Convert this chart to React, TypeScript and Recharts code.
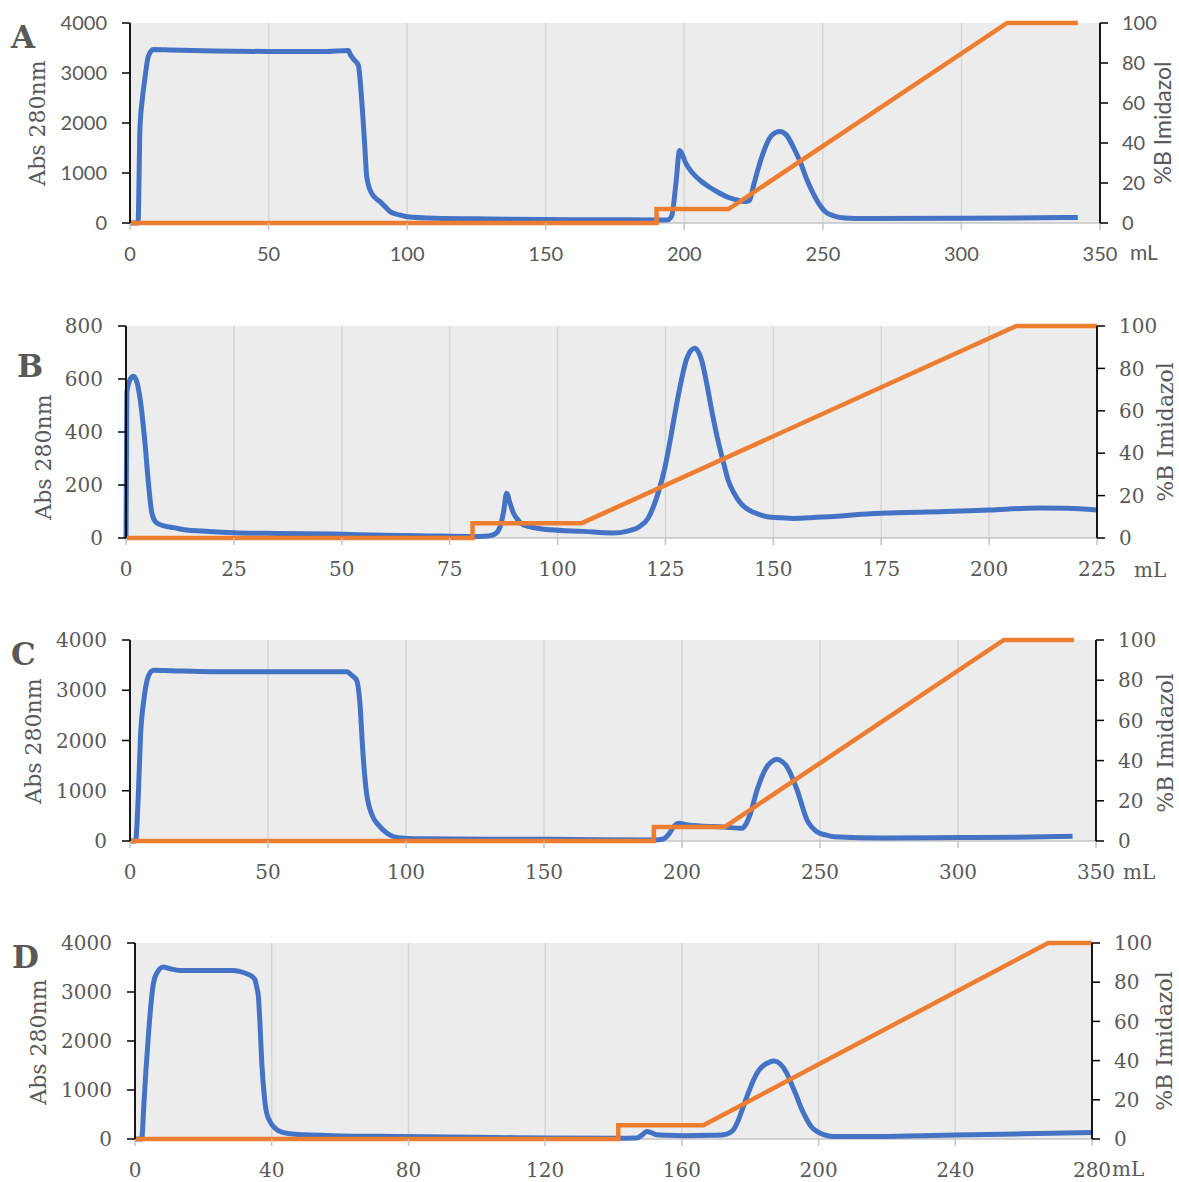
import React from 'react';
import { ComposedChart, Line, XAxis, YAxis, CartesianGrid } from 'recharts';

// ---------- Data (mL, value) ----------
// Panel A
const A_ABS_ML = [0, 2.9, 3.6, 4.5, 5.4, 6.6, 8.4, 15, 30, 50, 70, 78.8, 79.4, 80.6, 82.4, 83.6, 84.8, 85.4, 87.2, 90.2, 92, 93.8, 97.4, 100, 110, 130, 150, 170, 190, 194, 195.5, 197, 198.3, 199, 200.5, 203, 206, 209, 212, 216, 219, 222, 223.5, 225, 227, 229.5, 231.5, 234.5, 237, 239.5, 242, 244, 246.5, 249, 251, 254, 258, 265, 300, 342];
const A_ABS = [0, 0, 1900, 2500, 2900, 3330, 3470, 3460, 3440, 3430, 3430, 3450, 3380, 3280, 3150, 2460, 1460, 930, 593, 427, 330, 227, 160, 125, 95, 80, 70, 65, 60, 62, 150, 800, 1450, 1400, 1200, 1000, 840, 720, 620, 510, 460, 430, 450, 750, 1150, 1550, 1750, 1830, 1750, 1500, 1200, 900, 593, 350, 220, 140, 100, 90, 95, 110];
const A_GRAD_ML = [0, 190, 190, 216, 316.5, 342];
const A_GRAD = [0, 0, 7, 7, 100, 100];

// Panel B
const B_ABS_ML = [0, 0.2, 1, 1.7, 2.5, 3.2, 4.4, 5.2, 6, 7.1, 9, 11, 14, 17.5, 25, 35, 48, 60, 70, 80, 84, 85.5, 86.7, 87.5, 88.2, 89, 89.8, 91, 92, 95, 98.3, 106, 112.9, 116, 119, 121, 122.2, 123.5, 124.8, 126, 127.2, 128.5, 130, 131.8, 133.4, 134.6, 135.7, 137, 138.3, 139.5, 140.9, 142.5, 144.3, 146.5, 148.6, 152, 154.6, 160, 175, 190, 200, 211.5, 218, 225];
const B_ABS = [0, 550, 600, 610, 590, 533, 358, 207, 94, 57, 45, 39, 30, 26, 20, 17, 15, 10, 8, 6, 8, 15, 43, 100, 169, 130, 93, 65, 50, 38, 31, 25, 19, 25, 43, 75, 118, 180, 260, 360, 470, 580, 680, 716, 670, 580, 483, 380, 294, 220, 169, 130, 106, 90, 80, 76, 74, 78, 93, 100, 106, 113, 112, 106];
const B_GRAD_ML = [0, 80.3, 80.3, 105.6, 206.3, 225];
const B_GRAD = [0, 0, 7, 7, 100, 100];

// Panel C
const C_ABS_ML = [0, 2, 3, 3.8, 5, 6.2, 7.3, 8.6, 15, 30, 50, 70, 78.5, 80.5, 82.1, 83.3, 84.4, 85.7, 88, 90, 93, 98, 105, 130, 152, 190, 193.3, 195, 197, 198.8, 202, 206.6, 215, 221.8, 223, 224.8, 227.2, 230.8, 232.5, 234.4, 236.3, 238, 241.7, 245.3, 248.9, 252, 255, 273, 300, 320, 341.5];
const C_ABS = [0, 0, 900, 2075, 2800, 3200, 3350, 3400, 3390, 3370, 3370, 3370, 3370, 3290, 3200, 2740, 1750, 955, 480, 320, 160, 60, 45, 35, 33, 20, 40, 120, 285, 352, 320, 298, 278, 252, 320, 551, 1015, 1479, 1580, 1626, 1580, 1479, 1015, 418, 185, 120, 86, 60, 68, 75, 95];
const C_GRAD_ML = [0, 189.8, 189.8, 215.5, 316.6, 342];
const C_GRAD = [0, 0, 7, 7, 100, 100];

// Panel D
const D_ABS_ML = [0, 1.95, 2.6, 3.2, 3.9, 4.6, 5.4, 6.5, 8.3, 10, 13.2, 20, 28.8, 30.5, 32.7, 34.2, 35.1, 35.6, 36.1, 36.6, 37.1, 37.8, 38.5, 40, 41.5, 43, 45.4, 50, 58, 77.6, 100, 121.5, 141, 146.8, 148.5, 149.7, 151, 152.6, 156, 160.5, 168, 172.2, 173.8, 175.1, 176.5, 178, 179.5, 181, 182.5, 183.9, 185.5, 187, 188.8, 190.7, 192.2, 193.6, 195.1, 196.6, 198, 199.5, 201.5, 204.4, 218.9, 240, 260, 280];
const D_ABS = [0, 0, 700, 1400, 2093, 2700, 3180, 3400, 3509, 3480, 3440, 3440, 3440, 3420, 3372, 3320, 3250, 3100, 2910, 2300, 1550, 900, 537, 300, 190, 140, 108, 85, 68, 50, 35, 20, 15, 20, 90, 155, 130, 88, 75, 67, 75, 88, 120, 190, 380, 666, 950, 1210, 1400, 1500, 1565, 1590, 1530, 1346, 1100, 869, 600, 394, 240, 155, 90, 53, 53, 80, 105, 135];
const D_GRAD_ML = [0, 141.4, 141.4, 166.3, 267.2, 280];
const D_GRAD = [0, 0, 7, 7, 100, 100];

// Ticks
const X_TICKS_350 = [0, 50, 100, 150, 200, 250, 300, 350];
const X_TICKS_225 = [0, 25, 50, 75, 100, 125, 150, 175, 200, 225];
const X_TICKS_280 = [0, 40, 80, 120, 160, 200, 240, 280];
const ABS_TICKS_4000 = [0, 1000, 2000, 3000, 4000];
const ABS_TICKS_800 = [0, 200, 400, 600, 800];
const PCT_TICKS = [0, 20, 40, 60, 80, 100];

const TITLES = ['A', 'B', 'C', 'D'];
const Y_LEFT_LABEL = 'Abs 280nm';
const Y_RIGHT_LABEL = '%B Imidazol';
const X_UNIT = 'mL';

// ---------- Styles ----------
const BLUE = '#4472C4';
const ORANGE = '#ED7D31';
const TEXT = '#595959';
const SERIF = "'DejaVu Serif', serif";
const SANS = "Lato, 'Open Sans', sans-serif";
const W = 1179;

const pts = (xs: number[], ys: number[]) => xs.map((x, i) => ({ x, y: ys[i] }));

type PanelProps = {
  L: number; R: number; T: number; B: number;
  xMax: number; xTicks: number[];
  yMax: number; yTicks: number[];
  abs: { x: number; y: number }[];
  grad: { x: number; y: number }[];
  font: string;
};

function Panel(p: PanelProps) {
  const H = p.B - p.T + 20 + 50;
  const tickStyle = { fill: TEXT, fontSize: 20, fontFamily: p.font };
  return (
    <div style={{ position: 'absolute', left: 0, top: p.T - 20, width: W, height: H }}>
      <ComposedChart width={W} height={H} margin={{ top: 20, right: 0, bottom: 0, left: 0 }}>
        <CartesianGrid fill="#ececec" horizontal={false} stroke="#d6d6d6" strokeWidth={1.5} yAxisId="l" />
        <CartesianGrid vertical={false} horizontalValues={[0]} stroke="#c4c4c4" strokeWidth={1.5} yAxisId="l" />
        <XAxis
          type="number"
          dataKey="x"
          domain={[0, p.xMax]}
          ticks={p.xTicks}
          interval={0}
          height={50}
          axisLine={false}
          tickLine={{ stroke: '#c4c4c4', strokeWidth: 1.5 }}
          tickSize={7}
          tickMargin={17}
          tick={tickStyle}
        />
        <YAxis
          yAxisId="l"
          orientation="left"
          width={p.L}
          domain={[0, p.yMax]}
          ticks={p.yTicks}
          interval={0}
          axisLine={{ stroke: '#000', strokeWidth: 1.8 }}
          tickLine={{ stroke: '#000', strokeWidth: 1.5 }}
          tickSize={8}
          tickMargin={15}
          tick={tickStyle}
        />
        <YAxis
          yAxisId="r"
          orientation="right"
          width={W - p.R}
          domain={[0, 100]}
          ticks={PCT_TICKS}
          interval={0}
          axisLine={{ stroke: '#000', strokeWidth: 1.8 }}
          tickLine={{ stroke: '#000', strokeWidth: 1.5 }}
          tickSize={8}
          tickMargin={14}
          tick={tickStyle}
        />
        <Line
          yAxisId="l"
          data={p.abs}
          dataKey="y"
          type="monotone"
          stroke={BLUE}
          strokeWidth={5}
          dot={false}
          activeDot={false}
          isAnimationActive={false}
        />
        <Line
          yAxisId="r"
          data={p.grad}
          dataKey="y"
          type="linear"
          stroke={ORANGE}
          strokeWidth={4.5}
          dot={false}
          activeDot={false}
          isAnimationActive={false}
        />
      </ComposedChart>
    </div>
  );
}

const vText = (x: number, y: number, s: string, font: string, size: number) => (
  <text
    transform={`translate(${x},${y}) rotate(-90)`}
    textAnchor="middle"
    dominantBaseline="central"
    fill={TEXT}
    fontFamily={font}
    fontSize={size}
  >
    {s}
  </text>
);

export default function App() {
  return (
    <div style={{ position: 'absolute', left: 0, top: 0, width: W, height: 1182, background: '#fff' }}>
      <Panel L={130} R={1100} T={23} B={223} xMax={350} xTicks={X_TICKS_350} yMax={4000} yTicks={ABS_TICKS_4000}
        abs={pts(A_ABS_ML, A_ABS)} grad={pts(A_GRAD_ML, A_GRAD)} font={SANS} />
      <Panel L={126} R={1097} T={326} B={538} xMax={225} xTicks={X_TICKS_225} yMax={800} yTicks={ABS_TICKS_800}
        abs={pts(B_ABS_ML, B_ABS)} grad={pts(B_GRAD_ML, B_GRAD)} font={SERIF} />
      <Panel L={130} R={1096} T={640} B={841} xMax={350} xTicks={X_TICKS_350} yMax={4000} yTicks={ABS_TICKS_4000}
        abs={pts(C_ABS_ML, C_ABS)} grad={pts(C_GRAD_ML, C_GRAD)} font={SERIF} />
      <Panel L={135} R={1092} T={943} B={1139} xMax={280} xTicks={X_TICKS_280} yMax={4000} yTicks={ABS_TICKS_4000}
        abs={pts(D_ABS_ML, D_ABS)} grad={pts(D_GRAD_ML, D_GRAD)} font={SERIF} />
      <svg width={W} height={1182} style={{ position: 'absolute', left: 0, top: 0, pointerEvents: 'none' }}>
        <g fontFamily={SERIF} fontWeight="bold" fontSize={31} fill={TEXT}>
          <text x={11} y={48}>{TITLES[0]}</text>
          <text x={17} y={377}>{TITLES[1]}</text>
          <text x={11} y={665}>{TITLES[2]}</text>
          <text x={12} y={968}>{TITLES[3]}</text>
        </g>
        {vText(37, 123, Y_LEFT_LABEL, SERIF, 22)}
        {vText(43, 457, Y_LEFT_LABEL, SERIF, 22)}
        {vText(33, 741, Y_LEFT_LABEL, SERIF, 22)}
        {vText(38, 1042, Y_LEFT_LABEL, SERIF, 22)}
        {vText(1162, 123, Y_RIGHT_LABEL, SANS, 23)}
        {vText(1165, 432, Y_RIGHT_LABEL, SERIF, 22)}
        {vText(1165, 743, Y_RIGHT_LABEL, SERIF, 22)}
        {vText(1164, 1041, Y_RIGHT_LABEL, SERIF, 22)}
        <text x={1130} y={260} fill={TEXT} fontFamily={SANS} fontSize={21}>{X_UNIT}</text>
        <text x={1134} y={577} fill={TEXT} fontFamily={SERIF} fontSize={20}>{X_UNIT}</text>
        <text x={1123} y={879} fill={TEXT} fontFamily={SERIF} fontSize={20}>{X_UNIT}</text>
        <text x={1112} y={1176} fill={TEXT} fontFamily={SERIF} fontSize={20}>{X_UNIT}</text>
      </svg>
    </div>
  );
}
